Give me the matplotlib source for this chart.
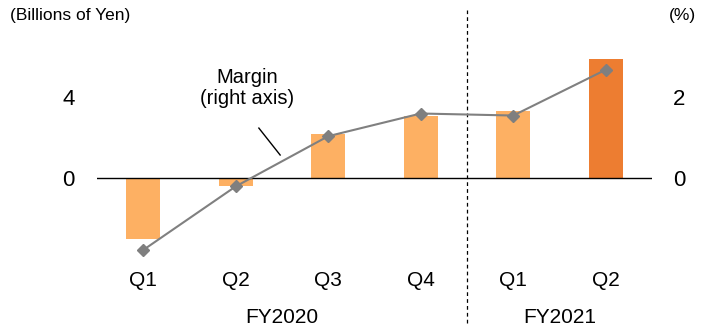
import matplotlib
matplotlib.use("Agg")
import matplotlib.pyplot as plt
from matplotlib.transforms import blended_transform_factory

plt.rcParams['font.family'] = ['Liberation Sans', 'DejaVu Sans']

quarters = ["Q1", "Q2", "Q3", "Q4", "Q1", "Q2"]
fiscal_years = ["FY2020", "FY2021"]
profit = [-3.0, -0.4, 2.2, 3.1, 3.3, 5.9]          # billions of yen
margin = [-1.77, -0.2, 1.04, 1.6, 1.55, 2.68]       # percent
bar_colors = ["#FDB063"] * 5 + ["#ED7D31"]

fig = plt.figure(figsize=(7.10, 3.31), dpi=100)
ax = fig.add_axes([0.1366, 0.2166, 0.7817, 0.6118])
ax2 = ax.twinx()

x = list(range(len(quarters)))
ax.bar(x, profit, width=0.37, color=bar_colors, zorder=2)
ax.axhline(0, color="black", lw=1.0, zorder=3)
ax.set_xlim(-0.5, len(quarters) - 0.5)
ax.set_ylim(-4, 6)
ax2.set_ylim(-2, 3)

ax2.plot(x, margin, color="#808080", lw=1.5, marker="D", markersize=6.5,
         markerfacecolor="#7F7F7F", markeredgecolor="#7F7F7F", zorder=4)

for a in (ax, ax2):
    for s in a.spines.values():
        s.set_visible(False)

ax.set_yticks([0, 4])
ax.set_yticklabels(["0", "4"])
ax.tick_params(axis="y", length=0, pad=16, labelsize=16)
ax2.set_yticks([0, 2])
ax2.set_yticklabels(["0", "2"])
ax2.tick_params(axis="y", length=0, pad=15, labelsize=16)

ax.set_xticks(x)
ax.set_xticklabels(quarters)
ax.tick_params(axis="x", length=0, pad=8.5, labelsize=15)

# fiscal year group labels
trans = blended_transform_factory(ax.transData, ax.transAxes)
ax.text(1.5, -0.285, fiscal_years[0], transform=trans, ha="center", va="center", fontsize=15)
ax.text(4.5, -0.285, fiscal_years[1], transform=trans, ha="center", va="center", fontsize=15)

# divider between fiscal years
ax.plot([3.5, 3.5], [-0.315, 1.231], transform=trans, color="black", lw=0.9,
        ls=(0, (3, 2.5)), clip_on=False, zorder=1)

# axis unit labels
fig.text(0.014, 0.953, "(Billions of Yen)", ha="left", va="center", fontsize=12.5)
fig.text(0.961, 0.953, "(%)", ha="center", va="center", fontsize=12.5)

# margin callout
ax2.text(1.12, 2.23, "Margin\n(right axis)", ha="center", va="center", fontsize=14.5,
         linespacing=1.1)
ax2.plot([1.25, 1.48], [1.24, 0.575], color="black", lw=1.0)

fig.savefig("out.png", dpi=100)
